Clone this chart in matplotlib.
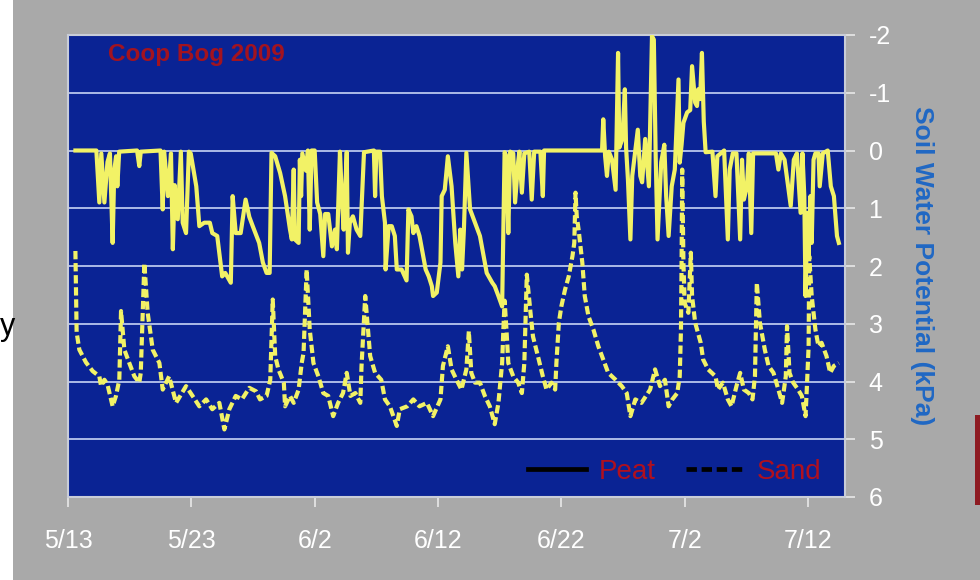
import matplotlib
matplotlib.use("Agg")
import matplotlib.pyplot as plt
from matplotlib.lines import Line2D
from matplotlib.patches import Rectangle

# ---- data (days after 5/13/2009, soil water potential in kPa) ----
peat_day = [0.6, 2.3, 2.54, 2.7, 2.95, 3.2, 3.4, 3.62, 3.75, 3.9, 4.0, 4.15, 5.6, 5.78, 5.9,
            7.5, 7.68, 7.8, 8.1, 8.35, 8.5, 8.65, 8.9, 9.15, 9.3, 9.57, 9.8, 9.95, 10.4, 10.65,
            11.05, 11.5, 11.7, 12.1, 12.5, 12.75, 13.2, 13.35, 13.6, 14.0, 14.4, 14.7, 14.98,
            15.5, 15.8, 16.1, 16.35, 16.5, 16.8, 17.2, 17.6, 18.0, 18.15, 18.3, 18.4, 18.7,
            18.8, 18.9, 19.0, 19.3, 19.45, 19.6, 19.75, 20.0, 20.2, 20.45, 20.7, 20.85, 21.1,
            21.4, 21.65, 21.8, 22.05, 22.2, 22.35, 22.6, 22.7, 22.85, 23.1, 23.4, 23.7, 24.0,
            24.8, 24.9, 25.0, 25.3, 25.45, 25.7, 25.75, 26.0, 26.25, 26.5, 26.66, 27.05, 27.3,
            27.45, 27.6, 27.85, 28.0, 28.25, 28.5, 29.0, 29.25, 29.5, 29.6, 29.9, 30.2, 30.3,
            30.55, 30.8, 31.1, 31.4, 31.65, 31.8, 31.95, 32.1, 32.3, 32.6, 33.0, 33.4, 33.7,
            33.95, 34.4, 34.6, 34.9, 35.2, 35.3, 35.4, 35.55, 35.7, 35.85, 36.1, 36.25, 36.5,
            36.6, 36.8, 37.0, 37.4, 37.6, 37.8, 38.3, 38.5, 38.6, 43.3, 43.4, 43.55, 43.7,
            43.85, 44.1, 44.4, 44.6, 44.7, 44.95, 45.15, 45.25, 45.4, 45.6, 45.75, 46.0, 46.2,
            46.4, 46.55, 46.8, 47.1, 47.35, 47.5, 47.65, 47.8, 48.1, 48.35, 48.5, 48.7, 48.95,
            49.2, 49.5, 49.6, 49.75, 49.9, 50.2, 50.45, 50.6, 50.85, 51.0, 51.1, 51.25, 51.4,
            51.55, 51.7, 52.25, 52.5, 52.65, 53.2, 53.5, 53.65, 53.9, 54.2, 54.5, 54.65, 54.8,
            55.05, 55.2, 55.4, 55.55, 57.4, 57.6, 57.8, 58.1, 58.6, 58.85, 59.1, 59.4, 59.55,
            59.7, 59.8, 59.95, 60.05, 60.2, 60.3, 60.45, 60.6, 60.85, 60.95, 61.2, 61.6, 61.85,
            62.1, 62.35, 62.5]
peat_kpa = [0.0, 0.0, 0.9, 0.05, 0.9, 0.2, 0.05, 1.6, 0.35, 0.1, 0.62, 0.02, 0.0, 0.27, 0.02,
            0.0, 1.02, 0.02, 0.79, 0.05, 1.71, 0.6, 1.19, 0.02, 1.25, 1.43, 0.02, 0.05, 0.62, 1.31,
            1.25, 1.25, 1.43, 1.48, 2.18, 2.12, 2.29, 0.79, 1.43, 1.43, 0.85, 1.15, 1.31,
            1.6, 1.94, 2.12, 2.12, 0.04, 0.1, 0.39, 0.79, 1.37, 1.54, 0.33, 1.54, 1.6,
            0.16, 0.79, 0.05, 0.35, 0.0, 1.37, 0.0, 0.0, 0.9, 1.1, 1.83, 1.1, 1.1,
            1.66, 1.37, 1.71, 0.02, 0.79, 1.37, 0.03, 1.77, 1.25, 1.14, 1.37, 1.48, 0.03,
            0.0, 0.79, 0.02, 0.02, 0.79, 1.25, 2.06, 1.31, 1.31, 1.48, 2.06, 2.06, 2.18,
            2.25, 1.02, 1.14, 1.43, 1.31, 1.48, 2.06, 2.18, 2.35, 2.52, 2.46, 1.94, 0.79,
            0.68, 0.1, 0.62, 1.6, 2.18, 1.37, 2.06, 1.37, 0.04, 1.02, 1.25, 1.48, 1.83,
            2.12, 2.29, 2.35, 2.52, 2.70, 1.37, 0.03, 0.1, 1.43, 0.02, 0.05, 0.9, 0.2,
            0.02, 0.73, 0.05, 0.02, 0.85, 0.02, 0.02, 0.79, 0.0, 0.0, -0.54, 0.1, 0.44,
            0.02, 0.15, 0.68, -1.69, -0.05, -0.2, -1.06, -0.05, 0.5, 1.54, 0.44, 0.0, -0.36,
            0.44, 0.55, -0.2, 0.62, -1.98, -1.92, 0.1, 1.54, 0.2, -0.1, 0.79, 1.48, 0.62,
            0.33, -1.23, 0.21, -0.1, -0.48, -0.66, -0.7, -1.46, -0.83, -0.77, -1.06, -0.89, -1.69,
            -0.5, 0.03, 0.02, 0.79, 0.1, 0.0, 1.54, 0.33, 0.05, 0.05, 1.54, 0.16, 0.85,
            0.62, 0.05, 1.43, 0.05, 0.05, 0.33, 0.05, 0.16, 0.96, 0.16, 0.05, 1.08, 0.05,
            0.79, 2.52, 1.08, 1.83, 0.79, 1.6, 0.16, 0.05, 0.05, 0.62, 0.05, 0.0, 0.62,
            0.79, 1.48, 1.6]

sand_day = [0.6, 0.7, 0.92, 1.46, 2.0, 2.54, 2.68, 2.95, 3.2, 3.62, 3.89, 4.16, 4.3, 4.57, 4.97,
            5.38, 5.78, 5.9, 6.19, 6.46, 6.87, 7.41, 7.68, 8.2, 8.76, 9.57, 10.1, 10.65, 11.2,
            11.7, 12.27, 12.68, 13.08, 13.6, 14.1, 14.7, 15.25, 15.57, 16.1, 16.4, 16.6, 16.8,
            17.06, 17.5, 17.6, 18.0, 18.3, 18.7, 18.95, 19.1, 19.35, 19.6, 19.9, 20.3, 20.7,
            21.1, 21.5, 21.9, 22.3, 22.6, 22.9, 23.3, 23.7, 23.8, 24.1, 24.5, 24.9, 25.4, 25.7,
            26.1, 26.66, 26.9, 27.5, 28.0, 28.5, 29.1, 29.6, 30.2, 30.4, 30.8, 31.1, 31.5, 31.9,
            32.3, 32.5, 32.7, 33.0, 33.4, 33.8, 34.2, 34.6, 34.9, 35.2, 35.3, 35.4, 35.55, 35.7,
            36.1, 36.5, 36.8, 37.0, 37.2, 37.5, 37.7, 38.1, 38.5, 38.8, 39.2, 39.5, 39.6, 39.8,
            40.0, 40.3, 40.6, 40.9, 41.05, 41.15, 41.25, 41.4, 41.7, 41.9, 42.2, 42.6, 43.0,
            43.4, 43.8, 44.4, 44.9, 45.3, 45.6, 46.0, 46.5, 47.2, 47.6, 48.0, 48.4, 48.7, 49.0,
            49.4, 49.6, 49.7, 49.75, 49.8, 49.9, 50.0, 50.3, 50.5, 50.6, 50.85, 51.3, 51.5,
            51.9, 52.5, 52.7, 53.1, 53.5, 53.8, 54.2, 54.5, 54.8, 55.2, 55.5, 55.7, 55.85, 56.1,
            56.5, 56.8, 57.2, 57.6, 57.9, 58.2, 58.3, 58.5, 58.8, 59.2, 59.5, 59.8, 59.9, 60.05,
            60.1, 60.3, 60.6, 60.85, 61.1, 61.5, 61.8, 62.1, 62.5]
sand_kpa = [1.74, 3.15, 3.45, 3.67, 3.82, 3.91, 4.08, 3.97, 4.05, 4.43, 4.25, 3.97, 2.78, 3.45, 3.68,
            3.91, 4.02, 3.85, 1.95, 2.81, 3.45, 3.68, 4.14, 3.91, 4.37, 4.08, 4.25, 4.43, 4.31,
            4.48, 4.37, 4.83, 4.48, 4.25, 4.31, 4.11, 4.17, 4.31, 4.25, 3.97, 2.58, 3.56,
            3.79, 4.02, 4.43, 4.25, 4.37, 4.14, 3.68, 3.5, 2.06, 3.1, 3.68, 3.91, 4.2,
            4.25, 4.6, 4.37, 4.2, 3.85, 4.25, 4.2, 4.37, 3.73, 2.52, 3.56, 3.85, 3.97, 4.31,
            4.43, 4.77, 4.48, 4.43, 4.31, 4.43, 4.37, 4.6, 4.31, 3.73, 3.39, 3.79, 3.97, 4.14,
            3.79, 3.13, 3.85, 4.02, 4.02, 4.25, 4.43, 4.74, 4.37, 3.68, 3.1, 2.6, 3.1, 3.68,
            3.91, 4.02, 4.2, 3.68, 2.15, 2.81, 3.22, 3.56, 3.91, 4.14, 4.02, 4.14, 3.68, 2.98,
            2.70, 2.41, 2.18, 1.83, 1.6, 0.73, 1.14, 1.37, 1.94, 2.52, 2.87, 3.10, 3.39,
            3.62, 3.85, 3.97, 4.08, 4.2, 4.6, 4.31, 4.37, 4.14, 3.79, 4.08, 3.97, 4.43, 4.31,
            4.2, 3.91, 3.1, 1.94, 0.33, 1.94, 2.64, 2.81, 1.77, 2.52, 2.98, 3.33, 3.62,
            3.79, 3.91, 4.14, 4.02, 4.31, 4.43, 4.08, 3.85, 4.14, 4.2, 4.31, 3.91, 2.29, 2.98,
            3.45, 3.73, 3.85, 4.14, 4.37, 3.91, 3.04, 3.85, 4.02, 4.14, 4.25, 4.6, 4.14, 3.39,
            1.83, 2.52, 3.1, 3.39, 3.33, 3.56, 3.85, 3.73, 3.68]

tick_days = [0, 10, 20, 30, 40, 50, 60]
tick_labels = ["5/13", "5/23", "6/2", "6/12", "6/22", "7/2", "7/12"]
y_ticks = [-2, -1, 0, 1, 2, 3, 4, 5, 6]

# ---- styling ----
W, H = 980, 580
GRAY = "#A9A9A9"
NAVY = "#0A2394"
YELLOW = "#F2F266"
GRID = "#B9C6EE"
SPINE = "#C9CDD8"
RED = "#B0101E"

plt.rcParams["font.family"] = ["Liberation Sans", "DejaVu Sans"]

fig = plt.figure(figsize=(W / 100, H / 100), dpi=100, facecolor=GRAY)

# screenshot edges: white strip on the left, dark red strip on the right
fig.patches.append(Rectangle((0, 0), 13 / W, 1, transform=fig.transFigure,
                             facecolor="white", edgecolor="none", zorder=0))
fig.patches.append(Rectangle((975 / W, 1 - 505 / H), 5 / W, 90 / H, transform=fig.transFigure,
                             facecolor="#8E1B22", edgecolor="none", zorder=0))
fig.text(0 / W, 1 - 327 / H, "y", fontsize=22, color="black", ha="left", va="center")

left, right, top, bottom = 68, 845, 35, 497
ax = fig.add_axes([left / W, 1 - bottom / H, (right - left) / W, (bottom - top) / H])
ax.set_facecolor(NAVY)

ax.plot(peat_day, peat_kpa, color=YELLOW, lw=3.0, solid_joinstyle="round", zorder=3)
ax.plot(sand_day, sand_kpa, color=YELLOW, lw=3.0, linestyle=(0, (2.0, 0.9)),
        dash_capstyle="butt", zorder=3)

ax.set_xlim(0, 63.0)
ax.set_ylim(6, -2)

ax.set_xticks(tick_days)
ax.set_xticklabels(tick_labels)
ax.set_yticks(y_ticks)
ax.set_yticklabels([str(v) for v in y_ticks])
ax.yaxis.tick_right()
ax.yaxis.set_label_position("right")

ax.grid(axis="y", color=GRID, lw=1.3, zorder=1)
ax.set_axisbelow(True)

for s in ax.spines.values():
    s.set_color(SPINE)
    s.set_linewidth(1.5)

ax.tick_params(axis="x", direction="out", length=7, width=1.2, color="#E8E8E8",
               labelcolor="white", labelsize=18, pad=16)
ax.tick_params(axis="y", direction="out", length=7, width=1.2, color="#E8E8E8",
               labelcolor="white", labelsize=18, pad=10, right=True, left=False)

ax.set_ylabel("Soil Water Potential (kPa)", color="#2068C4", fontsize=19,
              fontweight="bold", rotation=270, labelpad=31)

ax.text(108 / W, 1 - 55 / H, "Coop Bog 2009", transform=fig.transFigure,
        color="#A3131F", fontsize=17.5, fontweight="bold", ha="left", va="center")

handles = [Line2D([], [], color="black", lw=3.4),
           Line2D([], [], color="black", lw=3.4, linestyle=(0, (2.2, 1.0)))]
leg = ax.legend(handles, ["Peat", "Sand"], loc="lower right", ncol=2, frameon=False,
                fontsize=20, handlelength=2.1, columnspacing=1.1, handletextpad=0.45,
                bbox_to_anchor=(0.995, -0.016), borderaxespad=0.3)
for t in leg.get_texts():
    t.set_color(RED)

fig.savefig("out.png", dpi=100, facecolor=GRAY)
